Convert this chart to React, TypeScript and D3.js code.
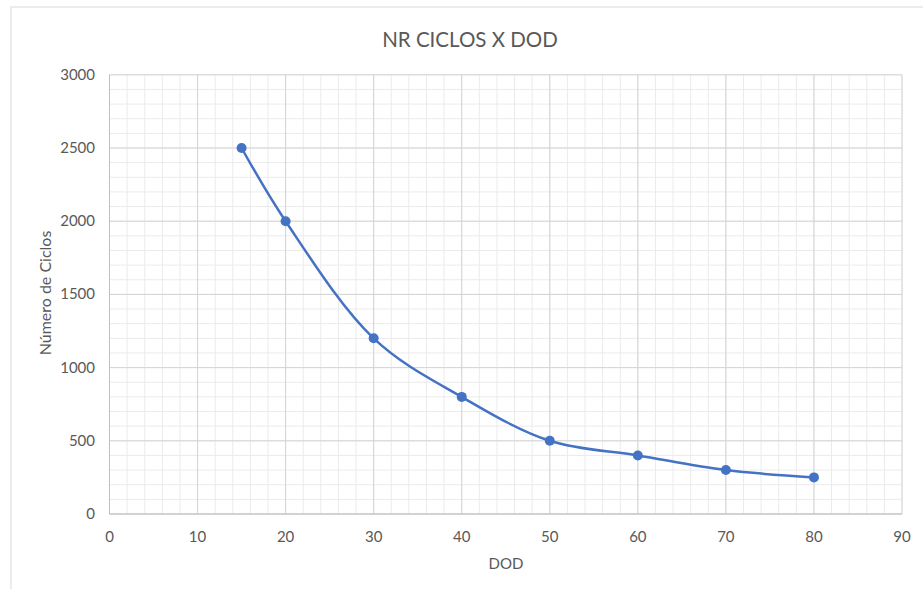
import React from "react";
import * as d3 from "d3";

const dodValues = [15, 20, 30, 40, 50, 60, 70, 80];
const cycleValues = [2500, 2000, 1200, 800, 500, 400, 300, 250];
const xTicks = [0, 10, 20, 30, 40, 50, 60, 70, 80, 90];
const yTicks = [0, 500, 1000, 1500, 2000, 2500, 3000];
const titleText = "NR CICLOS  X DOD";
const xTitle = "DOD";
const yTitle = "Número de Ciclos";

export default function App() {
  const W = 923, H = 589;
  const left = 109.5, right = 902, top = 74.8, bottom = 514;
  const x = d3.scaleLinear().domain([0, 90]).range([left, right]);
  const y = d3.scaleLinear().domain([0, 3000]).range([bottom, top]);
  const xMinor = d3.range(0, 90.001, 2);
  const yMinor = d3.range(0, 3000.001, 100);
  const pts = dodValues.map((d, i) => [d, cycleValues[i]] as [number, number]);
  const line = d3
    .line<[number, number]>()
    .x((d) => x(d[0]))
    .y((d) => y(d[1]))
    .curve(d3.curveCatmullRom.alpha(0.5));
  const font = "Lato, 'Open Sans', sans-serif";
  const textColor = "#595959";
  return (
    <svg
      width={W}
      height={H}
      style={{ position: "absolute", left: 0, top: 0, background: "#fff" }}
      fontFamily={font}
    >
      <rect x={11} y={7} width={W} height={H} fill="#fff" stroke="#d9d9d9" strokeWidth={1} />
      <text x={470} y={47} textAnchor="middle" fontSize={20.5} fill={textColor}>
        {titleText}
      </text>
      {xMinor.map((v) => (
        <line key={"xm" + v} x1={x(v)} x2={x(v)} y1={top} y2={bottom} stroke="#ebebeb" strokeWidth={1} />
      ))}
      {yMinor.map((v) => (
        <line key={"ym" + v} x1={left} x2={right} y1={y(v)} y2={y(v)} stroke="#ebebeb" strokeWidth={1} />
      ))}
      {xTicks.map((v) => (
        <line key={"xM" + v} x1={x(v)} x2={x(v)} y1={top} y2={bottom} stroke="#d4d4d4" strokeWidth={1} />
      ))}
      {yTicks.map((v) => (
        <line key={"yM" + v} x1={left} x2={right} y1={y(v)} y2={y(v)} stroke="#d4d4d4" strokeWidth={1} />
      ))}
      <line x1={left} x2={left} y1={top} y2={bottom} stroke="#bfbfbf" strokeWidth={1} />
      <line x1={left} x2={right} y1={bottom} y2={bottom} stroke="#bfbfbf" strokeWidth={1} />
      {xTicks.map((v) => (
        <text key={"xt" + v} x={x(v)} y={542} textAnchor="middle" fontSize={15} fill={textColor}>
          {v}
        </text>
      ))}
      {yTicks.map((v) => (
        <text key={"yt" + v} x={95} y={y(v) + 5} textAnchor="end" fontSize={15} fill={textColor}>
          {v}
        </text>
      ))}
      <text x={506} y={569} textAnchor="middle" fontSize={15} fill={textColor}>
        {xTitle}
      </text>
      <text
        transform={`translate(51, ${293}) rotate(-90)`}
        textAnchor="middle"
        fontSize={16}
        fill={textColor}
      >
        {yTitle}
      </text>
      <path d={line(pts) || ""} fill="none" stroke="#4472C4" strokeWidth={2.5} />
      {pts.map((p, i) => (
        <circle key={"p" + i} cx={x(p[0])} cy={y(p[1])} r={5} fill="#4472C4" />
      ))}
    </svg>
  );
}
